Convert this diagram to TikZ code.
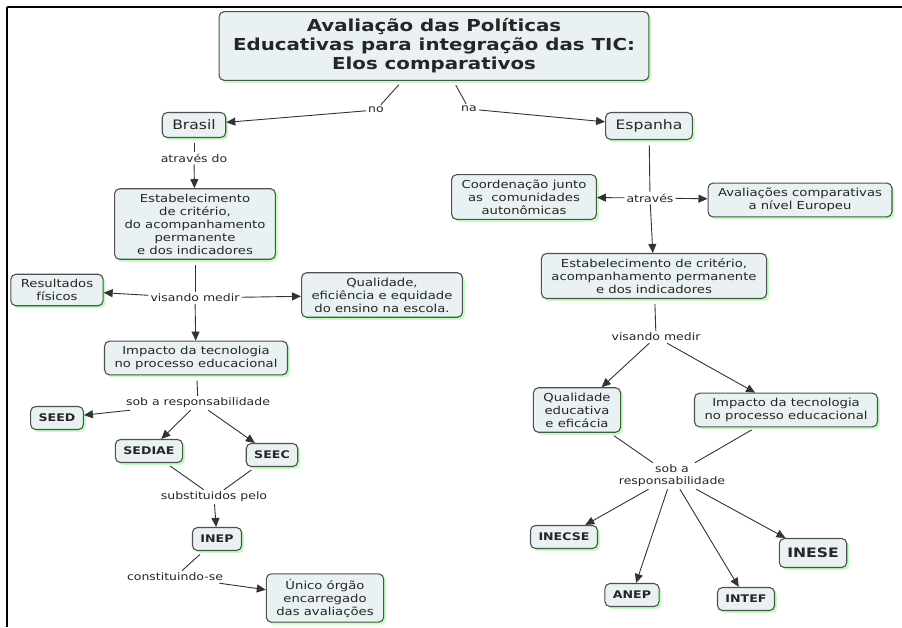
\documentclass[tikz,border=0pt]{standalone}
\usepackage{fontspec}
\setmainfont[FakeStretch=1.2]{DejaVu Sans}
\usetikzlibrary{arrows.meta, shadows}
\definecolor{boxfill}{HTML}{E9F1F3}
\definecolor{boxline}{HTML}{505050}
\definecolor{txt}{HTML}{262626}

\begin{document}
\begin{tikzpicture}[x=1pt, y=-1pt, >={Triangle[length=9pt,width=8pt]},
  concept/.style={draw=boxline, fill=boxfill, line width=1.1pt, rounded corners=5pt,
    align=center, inner xsep=10pt, inner ysep=5pt, text=txt,
    font=\fontsize{11}{13}\selectfont,
    drop shadow={shadow xshift=2.5pt, shadow yshift=-2.5pt, fill=green!35, opacity=0.7}},
  sigla/.style={concept, font=\bfseries\fontsize{10.5}{12}\selectfont, inner xsep=8pt, minimum height=23pt},
  phrase/.style={fill=white, inner sep=2pt, align=center, text=txt, font=\fontsize{10.4}{12}\selectfont},
  link/.style={draw=black!80, line width=0.9pt, shorten <=5pt},
  arr/.style={draw=black!80, line width=0.9pt, ->}]
  \useasboundingbox (0,0) rectangle (902,627);
  \draw[line width=1.6pt] (7,7) -- (902,7);
  \draw[line width=1.6pt] (7,7) -- (7,627);

  \node[concept, font=\bfseries\fontsize{16.5}{19}\selectfont, inner xsep=14pt, inner ysep=7pt] (tit) at (434,46)
    {Avaliação das Políticas\\Educativas para integração das TIC:\\Elos comparativos};
  \node[phrase] (no) at (376,110) {no};
  \node[phrase] (na) at (469,109) {na};
  \node[concept, font=\fontsize{13}{15}\selectfont, minimum height=25pt] (bra) at (194,125) {Brasil};
  \node[concept, font=\fontsize{13}{15}\selectfont, minimum height=27pt] (esp) at (649,126) {Espanha};

  % Brasil
  \node[phrase] (ad) at (194,158) {através do};
  \node[concept] (est1) at (195,224) {Estabelecimento\\de critério,\\do acompanhamento\\permanente\\e dos indicadores};
  \node[phrase] (vm1) at (195,298) {visando medir};
  \node[concept] (res) at (57,290) {Resultados\\físicos};
  \node[concept] (qua1) at (382,295) {Qualidade,\\eficiência e equidade\\do ensino na escola.};
  \node[concept] (imp1) at (196,358) {Impacto da tecnologia\\no processo educacional};
  \node[phrase] (sr1) at (198,403) {sob a responsabilidade};
  \node[sigla] (seed) at (57,418) {SEED};
  \node[sigla] (sediae) at (149,451) {SEDIAE};
  \node[sigla] (seec) at (272,455) {SEEC};
  \node[phrase] (sp) at (214,497) {substituidos pelo};
  \node[sigla] (inep) at (217,539) {INEP};
  \node[phrase] (cs) at (175,577) {constituindo-se};
  \node[concept] (uni) at (325,598) {Único órgão\\encarregado\\das avaliações};

  % Espanha
  \node[phrase] (at) at (650,198) {através};
  \node[concept] (coo) at (524,197) {Coordenação junto\\as~~comunidades\\autonômicas};
  \node[concept] (ava) at (800,200) {Avaliações comparativas\\a nível Europeu};
  \node[concept] (est2) at (654,276) {Estabelecimento de critério,\\acompanhamento permanente\\e dos indicadores};
  \node[phrase] (vm2) at (656,337) {visando medir};
  \node[concept] (qua2) at (577,410) {Qualidade\\educativa\\e eficácia};
  \node[concept] (imp2) at (786,410) {Impacto da tecnologia\\no processo educacional};
  \node[phrase] (sr2) at (672,476) {sob a\\responsabilidade};
  \node[sigla] (inecse) at (564,537) {INECSE};
  \node[sigla] (anep) at (632,595) {ANEP};
  \node[sigla] (intef) at (746,599) {INTEF};
  \node[sigla, font=\bfseries\fontsize{13}{15}\selectfont, minimum height=29pt] (inese) at (813,553) {INESE};

  \draw[link] (tit) -- (no);
  \draw[arr] (no) -- (bra);
  \draw[link] (tit) -- (na);
  \draw[arr] (na) -- (esp);
  \draw[link] (bra) -- (ad);
  \draw[arr] (ad) -- (est1);
  \draw[link] (est1) -- (vm1);
  \draw[arr] (vm1) -- (res);
  \draw[arr] (vm1) -- (qua1);
  \draw[arr] (vm1) -- (imp1);
  \draw[link] (imp1) -- (sr1);
  \draw[arr] (sr1) -- (seed);
  \draw[arr] (sr1) -- (sediae);
  \draw[arr] (sr1) -- (seec);
  \draw[link] (sediae) -- (sp);
  \draw[link] (seec) -- (sp);
  \draw[arr] (sp) -- (inep);
  \draw[link] (inep) -- (cs);
  \draw[arr] (cs) -- (uni);

  \draw[link] (esp) -- (at);
  \draw[arr] (at) -- (coo);
  \draw[arr] (at) -- (ava);
  \draw[arr] (at) -- (est2);
  \draw[link] (est2) -- (vm2);
  \draw[arr] (vm2) -- (qua2);
  \draw[arr] (vm2) -- (imp2);
  \draw[link] (qua2) -- (sr2);
  \draw[link] (imp2) -- (sr2);
  \draw[arr] (sr2) -- (inecse);
  \draw[arr] (sr2) -- (anep);
  \draw[arr] (sr2) -- (intef);
  \draw[arr] (sr2) -- (inese);
\end{tikzpicture}
\end{document}
